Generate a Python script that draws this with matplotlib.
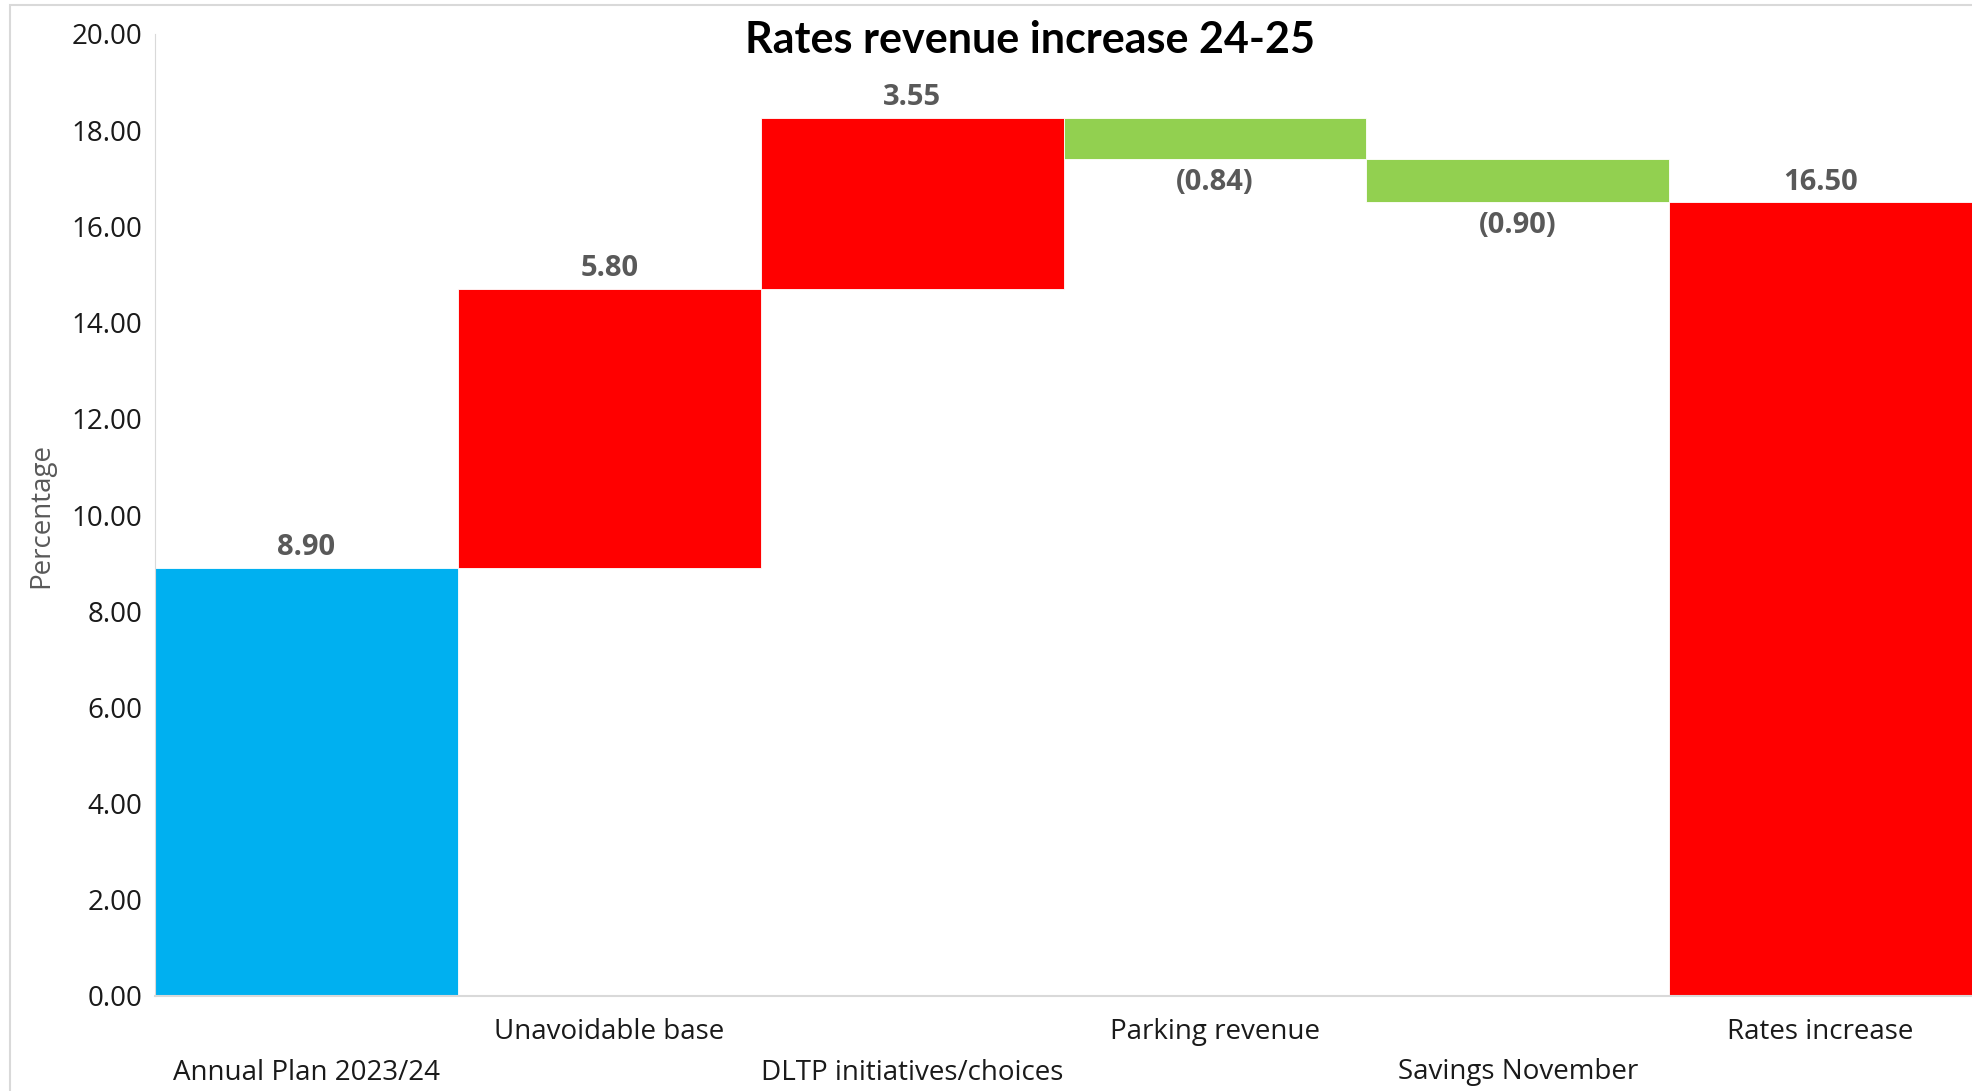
import numpy as np
import matplotlib
matplotlib.use("Agg")
import matplotlib.pyplot as plt
from matplotlib.patches import Rectangle

# datos del gráfico
categorias = ["Annual Plan 2023/24", "Unavoidable base", "DLTP initiatives/choices",
              "Parking revenue", "Savings November", "Rates increase"]
cambios = [8.90, 5.80, 3.55, -0.84, -0.90, 16.50]
es_total = [True, False, False, False, False, True]
colores = ["#00B0F0", "#FF0000", "#FF0000", "#92D050", "#92D050", "#FF0000"]
yticks = [0, 2, 4, 6, 8, 10, 12, 14, 16, 18, 20]

# base de cada barra (cascada)
bases = []
alturas = []
acumulado = 0.0
for v, tot in zip(cambios, es_total):
    if tot:
        bases.append(0.0)
        alturas.append(v)
        acumulado = v
    elif v >= 0:
        bases.append(acumulado)
        alturas.append(v)
        acumulado += v
    else:
        acumulado += v
        bases.append(acumulado)
        alturas.append(-v)

fuente_txt = "Open Sans"
gris = "#595959"

fig = plt.figure(figsize=(19.72, 10.91), dpi=100)
ax = fig.add_axes([155/1972, 1 - 996/1091, 1 - 155/1972, (996 - 34)/1091])

x = np.arange(len(categorias))
ax.bar(x, alturas, bottom=bases, width=1.0, color=colores, edgecolor="white", linewidth=0.6)

for i, v in enumerate(cambios):
    if v >= 0:
        ax.text(x[i], bases[i] + alturas[i] + 0.12, f"{v:.2f}", ha="center", va="bottom",
                fontsize=21, fontweight="bold", color=gris, family=fuente_txt)
    else:
        ax.text(x[i], bases[i] - 0.2, f"({abs(v):.2f})", ha="center", va="top",
                fontsize=21, fontweight="bold", color=gris, family=fuente_txt)

ax.set_xlim(-0.5, len(categorias) - 0.5)
ax.set_ylim(0, 20)
ax.set_yticks(yticks)
ax.set_yticklabels([f"{t:.2f}" for t in yticks], fontsize=20, family=fuente_txt, color="#1a1a1a")
ax.set_xticks(x)
ax.set_xticklabels(categorias, fontsize=20, family=fuente_txt, color="#1a1a1a")
ax.tick_params(axis="both", length=0)
ax.tick_params(axis="y", pad=9)
for i, tick in enumerate(ax.xaxis.get_major_ticks()):
    tick.set_pad(16 if i % 2 == 1 else 45)

ax.set_ylabel("Percentage", fontsize=20, family=fuente_txt, color=gris, labelpad=12)

for lado in ["top", "right"]:
    ax.spines[lado].set_visible(False)
ax.spines["left"].set_color("#D9D9D9")
ax.spines["bottom"].set_color("#D9D9D9")
ax.spines["bottom"].set_linewidth(1.5)

fig.text(1030/1972, 1 - 40/1091, "Rates revenue increase 24-25", ha="center", va="center",
         fontsize=31, fontweight="bold", family="Lato", color="black")

# marco exterior
fig.add_artist(Rectangle((10/1972, -0.01), 1.0, 1 - 5/1091 + 0.01, transform=fig.transFigure,
                         fill=False, edgecolor="#D9D9D9", linewidth=1.5))

fig.savefig("out.png", dpi=100)
